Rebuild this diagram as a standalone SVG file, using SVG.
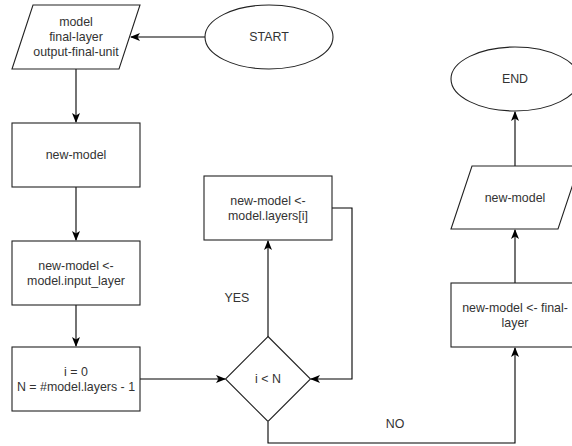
<svg xmlns="http://www.w3.org/2000/svg" width="572" height="446" viewBox="0 0 572 446">
<defs>
<marker id="arr" markerWidth="10" markerHeight="10" refX="9" refY="4" orient="auto" markerUnits="userSpaceOnUse">
<path d="M0,0 L10,4 L0,8 L2.5,4 z" fill="#000"/>
</marker>
<style>
.s{fill:#fff;stroke:#222;stroke-width:1.1}
.t{font-family:"Liberation Sans",Arial,sans-serif;font-size:12.4px;fill:#333;text-anchor:middle;dominant-baseline:central}
.c{fill:none;stroke:#000;stroke-width:1.1}
</style>
</defs>
<rect width="572" height="446" fill="#fff"/>
<g id="connectors">
<path class="c" d="M205,37 L131,37" marker-end="url(#arr)"/>
<path class="c" d="M76,69 L76,122" marker-end="url(#arr)"/>
<path class="c" d="M76,187 L76,240" marker-end="url(#arr)"/>
<path class="c" d="M76,305 L76,346" marker-end="url(#arr)"/>
<path class="c" d="M140,379 L225,379" marker-end="url(#arr)"/>
<path class="c" d="M268,337 L268,241" marker-end="url(#arr)"/>
<path class="c" d="M332,208 L352,208 L352,379 L311,379" marker-end="url(#arr)"/>
<path class="c" d="M268,422 L268,443 L515,443 L515,348" marker-end="url(#arr)"/>
<path class="c" d="M515,283 L515,230" marker-end="url(#arr)"/>
<path class="c" d="M515,166 L515,112" marker-end="url(#arr)"/>
<text class="t" x="237" y="298">YES</text>
<text class="t" x="395" y="424">NO</text>
</g>
<g id="input">
<polygon class="s" points="33,5 140,5 119,69 12,69"/>
<text class="t" x="76" y="22">model</text>
<text class="t" x="76" y="37">final-layer</text>
<text class="t" x="76" y="52">output-final-unit</text>
</g>
<g id="start">
<ellipse class="s" cx="269" cy="37" rx="64" ry="32"/>
<text class="t" x="269" y="37">START</text>
</g>
<g id="newmodel">
<rect class="s" x="12" y="123" width="128" height="64"/>
<text class="t" x="76" y="155">new-model</text>
</g>
<g id="inputlayer">
<rect class="s" x="12" y="241" width="128" height="64"/>
<text class="t" x="76" y="265.5">new-model &lt;-</text>
<text class="t" x="76" y="280.5">model.input_layer</text>
</g>
<g id="init">
<rect class="s" x="12" y="347" width="128" height="64"/>
<text class="t" x="76" y="371.5">i = 0</text>
<text class="t" x="76" y="386.5">N = #model.layers - 1</text>
</g>
<g id="decision">
<polygon class="s" points="268,336.5 310.5,379 268,421.5 225.5,379"/>
<text class="t" x="268" y="379">i &lt; N</text>
</g>
<g id="layerstep">
<rect class="s" x="204" y="176" width="128" height="64"/>
<text class="t" x="268" y="200.5">new-model &lt;-</text>
<text class="t" x="268" y="215.5">model.layers[i]</text>
</g>
<g id="finalstep">
<rect class="s" x="451" y="283" width="128" height="64"/>
<text class="t" x="515" y="307.5">new-model &lt;- final-</text>
<text class="t" x="515" y="322.5">layer</text>
</g>
<g id="output">
<polygon class="s" points="472,166 579,166 558,229 451,229"/>
<text class="t" x="515" y="197.5">new-model</text>
</g>
<g id="end">
<ellipse class="s" cx="515" cy="79" rx="64" ry="32"/>
<text class="t" x="515" y="79">END</text>
</g>
</svg>
